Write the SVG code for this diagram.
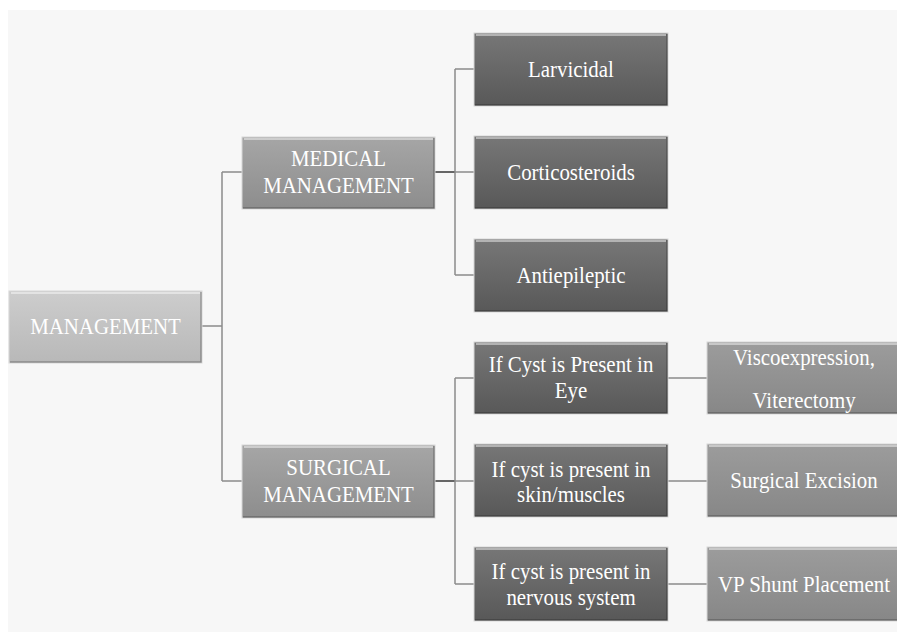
<svg xmlns="http://www.w3.org/2000/svg" width="897" height="634" viewBox="0 0 897 634">
<defs>
<linearGradient id="gL" x1="0" y1="0" x2="0" y2="1"><stop offset="0" stop-color="#cdcdcd"/><stop offset="1" stop-color="#b8b8b8"/></linearGradient>
<linearGradient id="gM" x1="0" y1="0" x2="0" y2="1"><stop offset="0" stop-color="#a6a6a6"/><stop offset="1" stop-color="#8d8d8d"/></linearGradient>
<linearGradient id="gD" x1="0" y1="0" x2="0" y2="1"><stop offset="0" stop-color="#777777"/><stop offset="1" stop-color="#585858"/></linearGradient>
<linearGradient id="gR" x1="0" y1="0" x2="0" y2="1"><stop offset="0" stop-color="#9c9c9c"/><stop offset="1" stop-color="#878787"/></linearGradient>
</defs>
<style>
.box{stroke:#d8d8d8;stroke-width:1}
.hl{stroke:#ffffff;stroke-opacity:0.45;stroke-width:2;fill:none}
.sh{stroke:#000;stroke-opacity:0.25;stroke-width:1.5;fill:none}
text{font-family:"Liberation Serif","Times New Roman",serif;font-size:24px;fill:#ffffff;text-anchor:middle;transform-box:fill-box;transform-origin:center;transform:scaleX(0.87)}
.c{fill:none;stroke:#8c8c8c;stroke-width:1.5}
.cd{fill:none;stroke:#666666;stroke-width:2}
</style>
<rect x="0" y="0" width="897" height="634" fill="#ffffff"/>
<rect x="8" y="10" width="889" height="622" fill="#f7f7f7"/>

<g id="connectors">
<path class="c" d="M202 326H222M222 172V481M222 172H242M222 481H242"/>
<path class="cd" d="M435 172H455M435 481H455"/>
<path class="c" d="M455 69V275M455 69H474M455 172H474M455 275H474"/>
<path class="c" d="M455 378V584M455 378H474M455 481H474M455 584H474"/>
<path class="c" d="M668 378H707M668 481H707M668 584H707"/>
</g>

<g id="n-management">
<rect class="box" x="9" y="291" width="193" height="72" fill="url(#gL)"/>
<path class="hl" d="M11 293H200"/><path class="sh" d="M201 292V362H10"/>
<text x="105.5" y="334">MANAGEMENT</text>
</g>

<g id="n-medical">
<rect class="box" x="242" y="137" width="193" height="72" fill="url(#gM)"/>
<path class="hl" d="M244 139H433"/><path class="sh" d="M434 138V208H243"/>
<text x="338.5" y="166">MEDICAL</text>
<text x="338.5" y="193">MANAGEMENT</text>
</g>

<g id="n-surgical">
<rect class="box" x="242" y="445" width="193" height="73" fill="url(#gM)"/>
<path class="hl" d="M244 447H433"/><path class="sh" d="M434 446V517H243"/>
<text x="338.5" y="475">SURGICAL</text>
<text x="338.5" y="502">MANAGEMENT</text>
</g>

<g id="n-larvicidal">
<rect class="box" x="474" y="33" width="194" height="73" fill="url(#gD)"/>
<path class="hl" d="M476 35H666"/><path class="sh" d="M667 34V105H475"/>
<text x="571" y="77">Larvicidal</text>
</g>

<g id="n-corticosteroids">
<rect class="box" x="474" y="136" width="194" height="73" fill="url(#gD)"/>
<path class="hl" d="M476 138H666"/><path class="sh" d="M667 137V208H475"/>
<text x="571" y="180">Corticosteroids</text>
</g>

<g id="n-antiepileptic">
<rect class="box" x="474" y="239" width="194" height="73" fill="url(#gD)"/>
<path class="hl" d="M476 241H666"/><path class="sh" d="M667 240V311H475"/>
<text x="571" y="283">Antiepileptic</text>
</g>

<g id="n-eye">
<rect class="box" x="474" y="342" width="194" height="72" fill="url(#gD)"/>
<path class="hl" d="M476 344H666"/><path class="sh" d="M667 343V413H475"/>
<text x="571" y="372">If Cyst is Present in</text>
<text x="571" y="398">Eye</text>
</g>

<g id="n-skin">
<rect class="box" x="474" y="444" width="194" height="73" fill="url(#gD)"/>
<path class="hl" d="M476 446H666"/><path class="sh" d="M667 445V516H475"/>
<text x="571" y="477">If cyst is present in</text>
<text x="571" y="502">skin/muscles</text>
</g>

<g id="n-nervous">
<rect class="box" x="474" y="547" width="194" height="74" fill="url(#gD)"/>
<path class="hl" d="M476 549H666"/><path class="sh" d="M667 548V620H475"/>
<text x="571" y="579">If cyst is present in</text>
<text x="571" y="605">nervous system</text>
</g>

<g id="n-visco">
<rect class="box" x="707" y="342" width="194" height="72" fill="url(#gR)"/>
<path class="hl" d="M709 344H899"/><path class="sh" d="M708 413H899"/>
<text x="804" y="365">Viscoexpression,</text>
<text x="804" y="408">Viterectomy</text>
</g>

<g id="n-excision">
<rect class="box" x="707" y="444" width="194" height="73" fill="url(#gR)"/>
<path class="hl" d="M709 446H899"/><path class="sh" d="M708 516H899"/>
<text x="804" y="488">Surgical Excision</text>
</g>

<g id="n-vpshunt">
<rect class="box" x="707" y="547" width="194" height="74" fill="url(#gR)"/>
<path class="hl" d="M709 549H899"/><path class="sh" d="M708 620H899"/>
<text x="804" y="592">VP Shunt Placement</text>
</g>
</svg>
